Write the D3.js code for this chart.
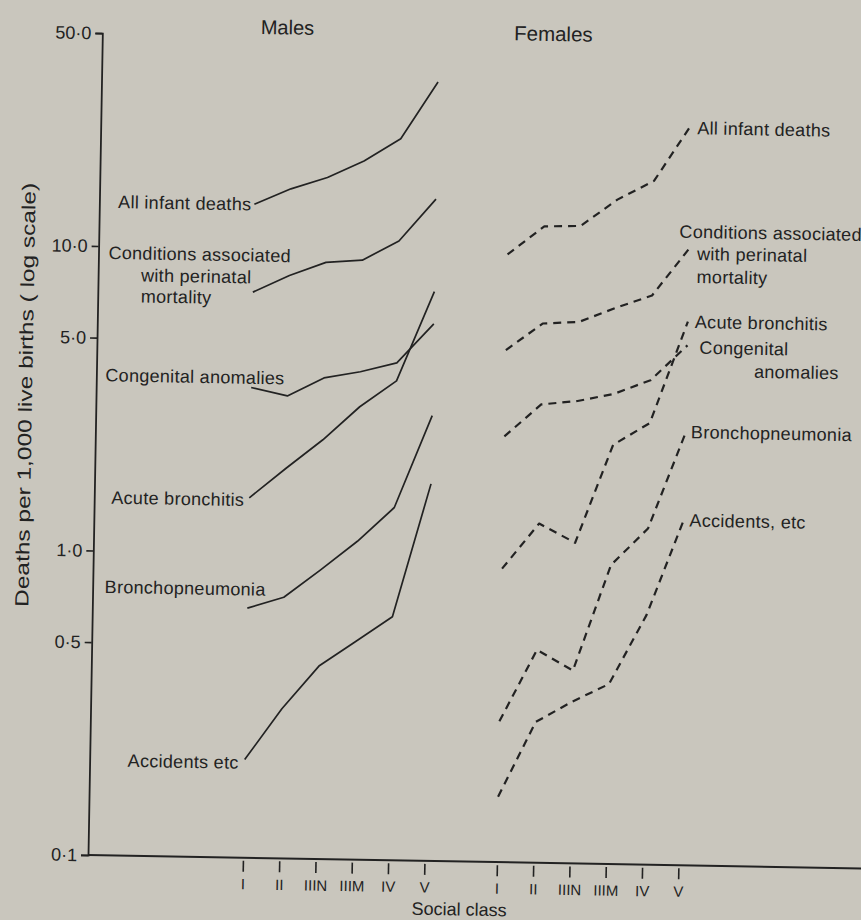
<!DOCTYPE html>
<html>
<head>
<meta charset="utf-8">
<script src="https://cdn.jsdelivr.net/npm/d3@7"></script>
<style>
  body { margin: 0; background: #c9c6bd; }
  svg { display: block; font-family: "Liberation Sans", Arial, sans-serif; }
  text { fill: #222; }
</style>
</head>
<body>
<script>
// social classes along the bottom
var classes = ["I", "II", "IIIN", "IIIM", "IV", "V"];

// y axis (log scale)
var yTicks = [50, 10, 5, 1, 0.5, 0.1];
var yTickLabels = ["50·0", "10·0", "5·0", "1·0", "0·5", "0·1"];

// deaths per 1,000 live births
var allInfantMale   = [14.0, 15.8, 17.3, 19.7, 23.4, 36.1];
var perinatalMale   = [7.2, 8.2, 9.1, 9.3, 10.8, 14.9];
var congenitalMale  = [3.5, 3.3, 3.8, 4.0, 4.3, 5.8];
var acuteBronchMale = [1.52, 1.91, 2.38, 3.07, 3.75, 7.4];
var bronchopnMale   = [0.66, 0.72, 0.89, 1.11, 1.44, 2.9];
var accidentsMale   = [0.21, 0.31, 0.43, 0.52, 0.63, 1.73];

var allInfantFemale   = [9.9, 12.3, 12.4, 15.2, 17.6, 27.0];
var perinatalFemale   = [4.8, 5.9, 6.0, 6.7, 7.4, 10.6];
var congenitalFemale  = [2.5, 3.2, 3.3, 3.5, 3.9, 5.1];
var acuteBronchFemale = [0.92, 1.30, 1.13, 2.38, 2.82, 6.1];
var bronchopnFemale   = [0.29, 0.50, 0.43, 0.96, 1.27, 2.65];
var accidentsFemale   = [0.164, 0.29, 0.34, 0.39, 0.66, 1.38];

var maleLabels = [
  ["All infant deaths"],
  ["Conditions associated", "with perinatal", "mortality"],
  ["Congenital anomalies"],
  ["Acute bronchitis"],
  ["Bronchopneumonia"],
  ["Accidents etc"]
];
var femaleLabels = [
  ["All infant deaths"],
  ["Conditions associated", "with perinatal", "mortality"],
  ["Acute bronchitis"],
  ["Congenital", "anomalies"],
  ["Bronchopneumonia"],
  ["Accidents, etc"]
];

var males = [allInfantMale, perinatalMale, congenitalMale, acuteBronchMale, bronchopnMale, accidentsMale];
var females = [allInfantFemale, perinatalFemale, acuteBronchFemale, congenitalFemale, bronchopnFemale, accidentsFemale];

// label placement: [anchor, dx, dy] per text line, relative to the line's first (males) or last (females) point
var maleLabelPos = [
  [["end", -3, 0]],
  [["start", -145, -37], ["start", -112, -15], ["start", -112, 6]],
  [["start", -146, -10]],
  [["end", -5, 2]],
  [["start", -143, -19]],
  [["end", -6, 3]]
];
var femaleLabelPos = [
  [["start", 6, 3]],
  [["start", -10, -17], ["start", 8, 5], ["start", 8, 28]],
  [["start", 7, 0]],
  [["start", 12, 2], ["start", 67, 25]],
  [["start", 5, 0]],
  [["start", 5, 2]]
];

var W = 861, H = 920;
var x0 = 88, yBase = 855;

var svg = d3.select("body").append("svg")
  .attr("width", W)
  .attr("height", H);

// the printed page sits about a degree off square
var g = svg.append("g")
  .attr("transform", "rotate(1," + x0 + "," + yBase + ")");

var y = d3.scaleLog()
  .domain([0.1, 50])
  .range([yBase, 33]);

var xMale = d3.scalePoint().domain(classes).range([243, 424.5]);
var xFemale = d3.scalePoint().domain(classes).range([497, 678.5]);

var ink = "#222";

// y axis
var yAxis = g.append("g")
  .attr("transform", "translate(" + x0 + ",0)")
  .call(d3.axisLeft(y)
    .tickValues(yTicks)
    .tickFormat(function(d, i) { return yTickLabels[i]; })
    .tickSizeOuter(0)
    .tickSize(7)
    .tickPadding(4));
yAxis.select(".domain").attr("stroke", ink).attr("stroke-width", 1.8);
yAxis.selectAll(".tick line").attr("stroke", ink).attr("stroke-width", 1.6);
yAxis.selectAll(".tick text")
  .attr("font-size", 18)
  .attr("font-family", "Liberation Sans, Arial, sans-serif")
  .attr("fill", ink);

// x axis baseline runs off the page
g.append("line")
  .attr("x1", x0).attr("x2", W + 40)
  .attr("y1", yBase).attr("y2", yBase)
  .attr("stroke", ink)
  .attr("stroke-width", 2);

[xMale, xFemale].forEach(function(sc) {
  var ax = g.append("g")
    .attr("transform", "translate(0," + (yBase + 3) + ")")
    .call(d3.axisBottom(sc).tickSize(11).tickPadding(7));
  ax.select(".domain").remove();
  ax.selectAll(".tick line").attr("stroke", ink).attr("stroke-width", 1.6);
  ax.selectAll(".tick text")
    .attr("font-size", 15)
    .attr("font-family", "Liberation Sans, Arial, sans-serif")
    .attr("fill", ink);
});

g.append("text")
  .attr("x", 460).attr("y", 909)
  .attr("text-anchor", "middle")
  .attr("font-size", 18)
  .text("Social class");

g.append("text")
  .attr("transform", "translate(24,396) rotate(-90)")
  .attr("text-anchor", "middle")
  .attr("font-size", 19)
  .attr("textLength", 424)
  .attr("lengthAdjust", "spacingAndGlyphs")
  .text("Deaths per 1,000 live births ( log scale)");

g.append("text")
  .attr("x", 273).attr("y", 31)
  .attr("text-anchor", "middle")
  .attr("font-size", 20)
  .text("Males");

g.append("text")
  .attr("x", 539).attr("y", 33)
  .attr("text-anchor", "middle")
  .attr("font-size", 20.5)
  .text("Females");

function drawSet(series, sc, labels, pos, dashed, labelAt) {
  var line = d3.line()
    .x(function(d, i) { return sc(classes[i]); })
    .y(function(d) { return y(d); });

  series.forEach(function(vals, k) {
    g.append("path")
      .datum(vals)
      .attr("d", line)
      .attr("fill", "none")
      .attr("stroke", ink)
      .attr("stroke-width", dashed ? 2.2 : 1.7)
      .attr("stroke-dasharray", dashed ? "8,6" : null)
      .attr("stroke-linejoin", "round");

    var px = sc(classes[labelAt]), py = y(vals[labelAt]);
    labels[k].forEach(function(txt, j) {
      var p = pos[k][j];
      g.append("text")
        .attr("x", px + p[1])
        .attr("y", py + p[2])
        .attr("dy", "0.35em")
        .attr("text-anchor", p[0])
        .attr("font-size", 18)
        .attr("letter-spacing", 0.3)
        .text(txt);
    });
  });
}

drawSet(males, xMale, maleLabels, maleLabelPos, false, 0);
drawSet(females, xFemale, femaleLabels, femaleLabelPos, true, 5);
</script>
</body>
</html>
